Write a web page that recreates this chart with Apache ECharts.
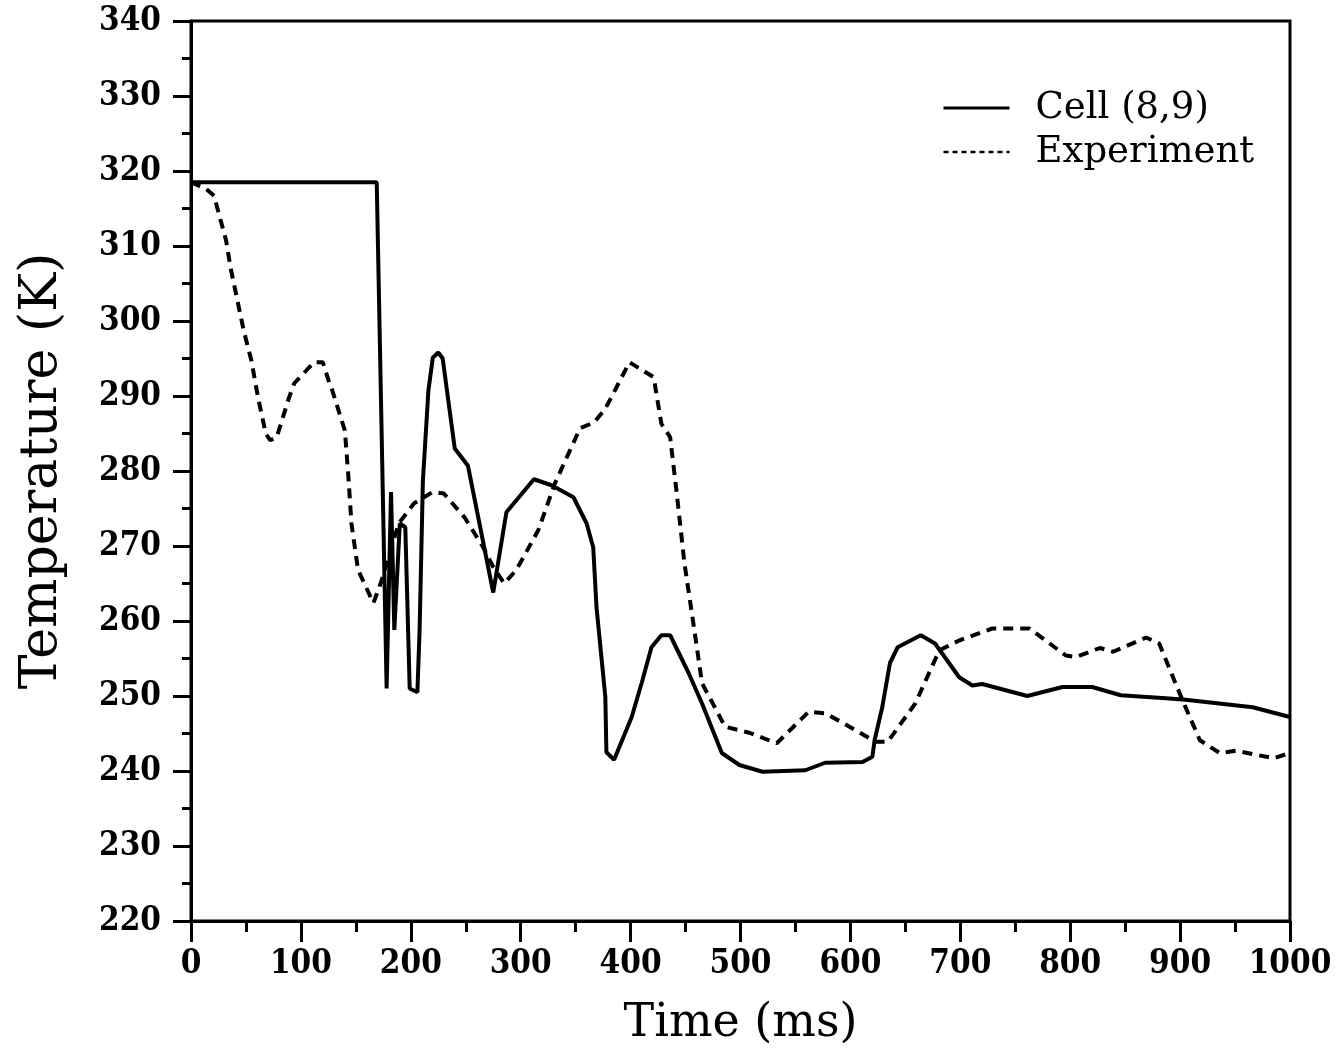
<!DOCTYPE html>
<html>
<head>
<meta charset="utf-8">
<script src="https://cdn.jsdelivr.net/npm/echarts@6/dist/echarts.min.js"></script>
<style>
html,body{margin:0;padding:0;background:#fff;}
#chart{width:1335px;height:1064px;}
</style>
</head>
<body>
<div id="chart"></div>
<script>
// ---- data ----
const seriesNames = ['Cell (8,9)', 'Experiment'];
const xTitle = 'Time (ms)';
const yTitle = 'Temperature (K)';

const cellTime = [0,169,178,182,185,190,195,199,206,208,211,216,220,225,229,240,252,275,287,312,328,348,360,366,369,377,378,385,401,410,419,428,436,453,465,483,499,520,559,577,611,620,622,629,636,643,664,677,699,711,720,761,793,820,846,887,905,966,1000];
const cellTemp = [318.5,318.5,251,277.2,258.8,273,272.5,251,250.5,258.8,278.7,290.7,295.1,295.8,295,283,280.7,263.8,274.5,278.9,278.1,276.5,273,269.8,261.8,249.9,242.5,241.5,247.2,251.7,256.5,258.1,258.1,253,249,242.4,240.8,239.9,240.1,241.1,241.2,241.9,244.1,248.5,254.4,256.5,258.1,257,252.5,251.4,251.6,250,251.2,251.2,250.1,249.7,249.5,248.5,247.2];

const expTime = [0,3,14,21,27,32,36,41,48,55,61,68,72,78,89,94,112,120,126,128,140,143,146,152,166,173,189,203,220,230,249,266,275,285,296,316,331,354,367,377,399,421,428,436,442,449,458,465,486,508,533,562,577,592,623,634,659,681,699,729,763,796,805,827,839,869,881,902,918,936,951,985,1000];
const expTemp = [318.5,318.3,317.6,316.7,313.4,310.7,307.1,303.6,298.7,294.7,289.8,285,284.1,284.5,289.7,291.7,294.5,294.5,291.7,291,285.4,279.7,273,266.8,262.4,265.2,273,275.7,277.2,277,273.8,269.8,267.2,265,266.8,272.1,278.3,285.7,286.5,288.3,294.5,292.5,286.3,284.5,277,267.7,258.8,251.7,245.9,245.1,243.7,247.9,247.7,246.5,243.9,243.9,249,256.1,257.4,259,259,255.4,255.2,256.4,255.9,257.8,257,249.5,244.1,242.4,242.7,241.7,242.4];

function zip(a, b) { return a.map((v, i) => [v, b[i]]); }

const tickFont = "'DejaVu Serif Condensed', 'DejaVu Serif', serif";
const titleFont = "'DejaVu Serif', serif";

const chart = echarts.init(document.getElementById('chart'), null, {renderer: 'canvas'});
chart.setOption({
  animation: false,
  backgroundColor: '#fff',
  grid: {
    left: 191, right: 45, top: 21, bottom: 143,
    show: true, borderColor: '#000', borderWidth: 3, containLabel: false
  },
  legend: {
    orient: 'vertical',
    left: 942, top: 86, padding: 0,
    itemWidth: 66, itemHeight: 14, itemGap: 0,
    itemStyle: {opacity: 0},
    data: [
      {name: seriesNames[0], lineStyle: {width: 3, type: 'solid', color: '#000'}},
      {name: seriesNames[1], lineStyle: {width: 2.5, type: [5, 4], color: '#000'}}
    ],
    textStyle: {
      fontFamily: titleFont, fontSize: 37, color: '#000',
      lineHeight: 44, padding: [0, 0, 0, 21]
    }
  },
  xAxis: {
    type: 'value', min: 0, max: 1000, interval: 100,
    name: xTitle, nameLocation: 'middle', nameGap: 80,
    nameTextStyle: {fontFamily: titleFont, fontSize: 46, color: '#000'},
    axisLine: {show: true, lineStyle: {color: '#000', width: 3}},
    axisTick: {show: true, inside: false, length: 21, lineStyle: {color: '#000', width: 3}},
    minorTick: {show: true, splitNumber: 2, length: 11, lineStyle: {color: '#000', width: 3}},
    axisLabel: {fontFamily: tickFont, fontSize: 33, fontWeight: 'bold', color: '#000', margin: 27,
      formatter: v => String(v)},
    splitLine: {show: false}
  },
  yAxis: {
    type: 'value', min: 220, max: 340, interval: 10,
    name: yTitle, nameLocation: 'middle', nameGap: 123,
    nameTextStyle: {fontFamily: titleFont, fontSize: 52, color: '#000'},
    axisLine: {show: true, lineStyle: {color: '#000', width: 3}},
    axisTick: {show: true, inside: false, length: 18, lineStyle: {color: '#000', width: 3}},
    minorTick: {show: true, splitNumber: 2, length: 9, lineStyle: {color: '#000', width: 3}},
    axisLabel: {fontFamily: tickFont, fontSize: 33, fontWeight: 'bold', color: '#000', margin: 30,
      formatter: v => String(v)},
    splitLine: {show: false}
  },
  series: [
    {
      name: seriesNames[0], type: 'line', data: zip(cellTime, cellTemp),
      symbol: 'none', smooth: false,
      lineStyle: {color: '#000', width: 4, type: 'solid'},
      itemStyle: {color: '#000'}
    },
    {
      name: seriesNames[1], type: 'line', data: zip(expTime, expTemp),
      symbol: 'none', smooth: false,
      lineStyle: {color: '#000', width: 4, type: [10, 7]},
      itemStyle: {color: '#000'}
    }
  ]
});
</script>
</body>
</html>
